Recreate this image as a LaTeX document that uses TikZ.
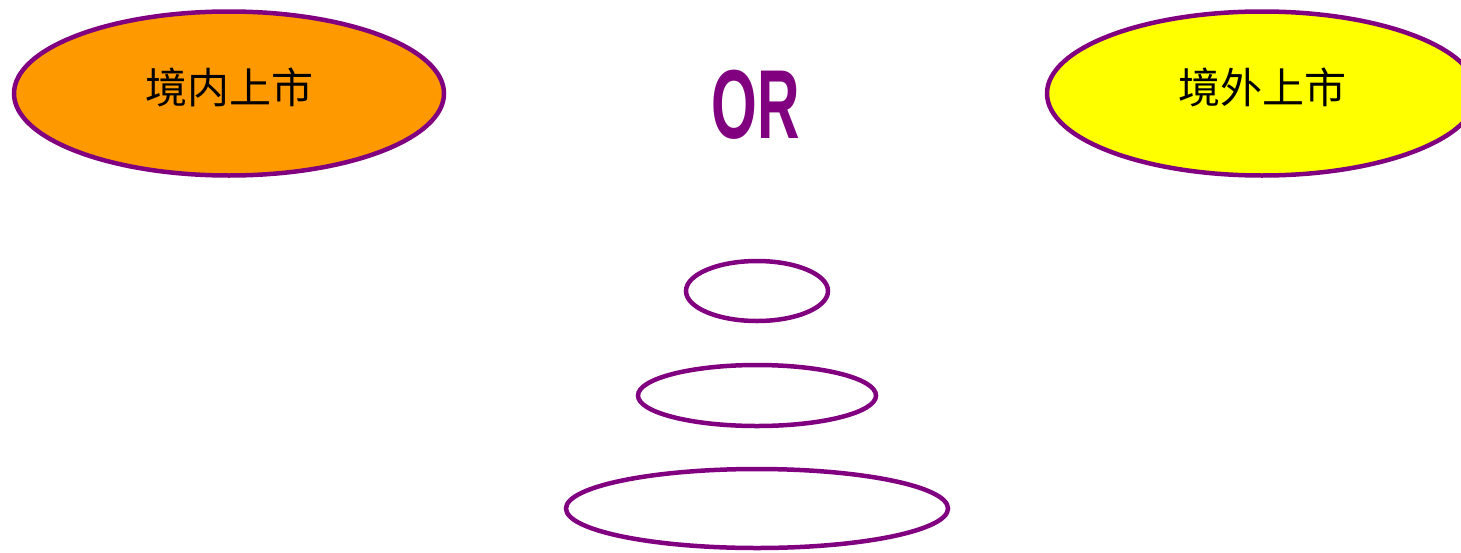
\documentclass[tikz,border=0pt]{standalone}
\usepackage{fontspec}
\newfontfamily\cjk{Noto Sans CJK SC}
\newfontfamily\orfont{Liberation Sans}
\usetikzlibrary{shapes.geometric, positioning}
\definecolor{ovalpurple}{HTML}{800080}
\definecolor{ovalorange}{HTML}{FF9900}
\definecolor{ovalyellow}{HTML}{FFFF00}

\tikzset{
  oval/.style={draw=ovalpurple, ellipse, line width=4.5pt, inner sep=0pt},
  bigoval/.style={oval, minimum width=430pt, minimum height=164pt},
  cjklabel/.style={font=\cjk\fontsize{42}{46}\selectfont, text=black, inner sep=0pt}
}

\begin{document}
\begin{tikzpicture}[x=1pt, y=-1pt]
  \useasboundingbox (0,0) rectangle (1461,552);
  \clip (0,0) rectangle (1461,552);
  % top row
  \node[bigoval, fill=ovalorange] (inner) at (229,93.5) {};
  \node[cjklabel] (innerText) at ([yshift=6pt]inner.center) {境内上市};
  \node[bigoval, fill=ovalyellow] (outer) at (1262,93.5) {};
  \node[cjklabel] (outerText) at ([yshift=6pt]outer.center) {境外上市};
  \node[font=\orfont\bfseries\fontsize{98}{100}\selectfont, text=ovalpurple, xscale=0.6, inner sep=0pt] (orText) at (756,105) {OR};
  % stacked rings
  \node[oval, minimum width=142pt, minimum height=60pt] (ringA) at (757,291) {};
  \node[oval, minimum width=238pt, minimum height=61pt] (ringB) at (757,395.5) {};
  \node[oval, minimum width=382pt, minimum height=79pt] (ringC) at (757,508.5) {};
\end{tikzpicture}
\end{document}
